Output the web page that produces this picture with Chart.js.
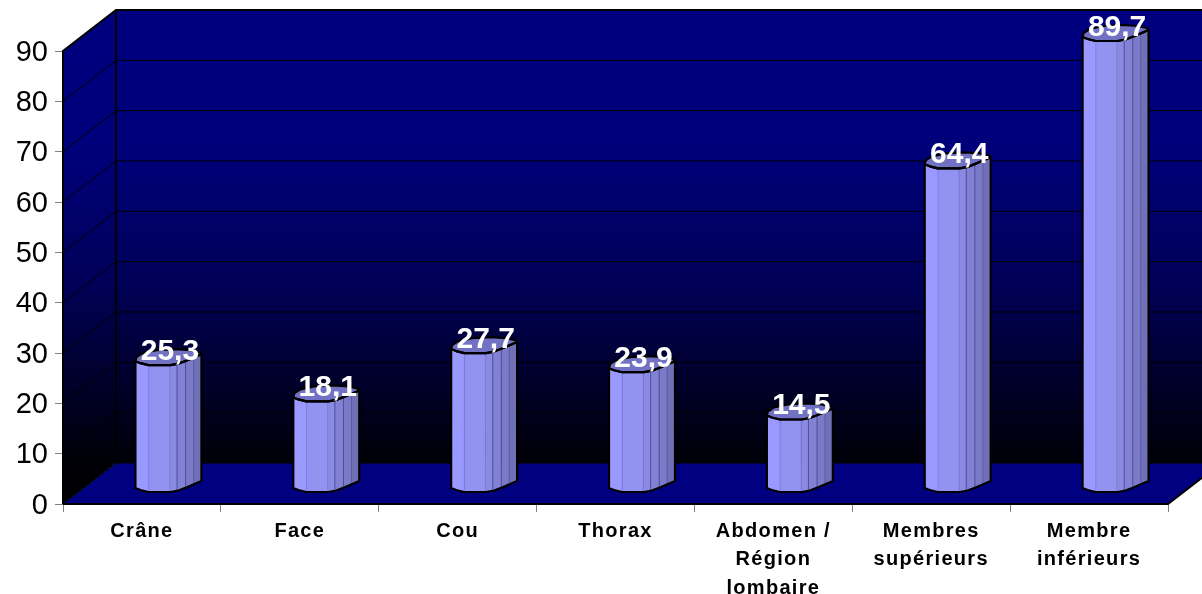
<!DOCTYPE html>
<html>
<head>
<meta charset="utf-8">
<style>
  html, body { margin: 0; padding: 0; background: #fff; }
  canvas { display: block; }
</style>
<script src="https://cdn.jsdelivr.net/npm/chart.js@4/dist/chart.umd.min.js"></script>
</head>
<body>
<canvas id="chart" width="1202" height="594"></canvas>
<script>
const categories = [
  "Crâne",
  "Face",
  "Cou",
  "Thorax",
  ["Abdomen /", "Région", "lombaire"],
  ["Membres", "supérieurs"],
  ["Membre", "inférieurs"],
];
const values = [25.3, 18.1, 27.7, 23.9, 14.5, 64.4, 89.7];
const yTicks = [0, 10, 20, 30, 40, 50, 60, 70, 80, 90];

const DEPTH_X = 53;
const DEPTH_Y = -41;
const NAVY = "#000080";

// facets of the cylinder, left to right (fraction of width, colour, divider line)
const FACETS = [
  [0, 0.2, "#9999ff", null],
  [0.2, 0.52, "#9292f0", "rgba(90,90,190,0.35)"],
  [0.52, 0.63, "#8a8ae0", "rgba(90,90,190,0.35)"],
  [0.63, 0.76, "#8282d4", "rgba(60,60,150,0.75)"],
  [0.76, 0.88, "#7a7ac6", "rgba(60,60,150,0.75)"],
  [0.88, 1, "#7070b6", "rgba(60,60,150,0.4)"],
];
// outline of the cap / foot around the centre point
const FRONT_EDGE = [[-33, 5], [-28, 7], [-20, 9], [2, 9], [10, 7.5], [19, 4], [33, -2]];
const BACK_EDGE = [[33, -2], [31, -4], [22, -6], [7, -7], [-12, -6], [-26, -3], [-32, 1], [-33, 5]];

function wallGradient(ctx, top, bottom) {
  const g = ctx.createLinearGradient(0, top, 0, bottom);
  g.addColorStop(0, NAVY);
  g.addColorStop(0.28, "#00007a");
  g.addColorStop(0.55, "#000058");
  g.addColorStop(0.755, "#00002a");
  g.addColorStop(0.92, "#000006");
  g.addColorStop(1, "#000000");
  return g;
}

const walls = {
  id: "walls",
  beforeDraw(chart) {
    // only the category labels are spaced out
    const x = chart.scales.x;
    const drawLabels = Object.getPrototypeOf(x).drawLabels;
    x.drawLabels = function (area) {
      chart.ctx.letterSpacing = "1.3px";
      drawLabels.call(this, area);
      chart.ctx.letterSpacing = "0px";
    };
  },
  beforeDatasetsDraw(chart) {
    const { ctx, chartArea: a, scales: { y } } = chart;
    const wallFill = wallGradient(ctx, a.top + DEPTH_Y, a.bottom);
    ctx.save();

    // back wall
    ctx.fillStyle = wallFill;
    ctx.fillRect(a.left + DEPTH_X, a.top + DEPTH_Y, a.width, a.height);

    // side wall
    ctx.beginPath();
    ctx.moveTo(a.left, a.top);
    ctx.lineTo(a.left + DEPTH_X, a.top + DEPTH_Y);
    ctx.lineTo(a.left + DEPTH_X, a.bottom + DEPTH_Y);
    ctx.lineTo(a.left, a.bottom);
    ctx.closePath();
    ctx.fill();

    // floor
    ctx.fillStyle = NAVY;
    ctx.beginPath();
    ctx.moveTo(a.left, a.bottom);
    ctx.lineTo(a.right, a.bottom);
    ctx.lineTo(a.right + DEPTH_X, a.bottom + DEPTH_Y);
    ctx.lineTo(a.left + DEPTH_X, a.bottom + DEPTH_Y);
    ctx.closePath();
    ctx.fill();

    // grid lines
    ctx.strokeStyle = "#000";
    ctx.lineWidth = 1;
    yTicks.forEach((v) => {
      const py = y.getPixelForValue(v);
      ctx.beginPath();
      ctx.moveTo(a.left, py);
      ctx.lineTo(a.left + DEPTH_X, py + DEPTH_Y);
      ctx.lineTo(a.right + DEPTH_X, py + DEPTH_Y);
      ctx.stroke();
    });

    // wall edges
    ctx.lineWidth = 2;
    ctx.beginPath();
    ctx.moveTo(a.left, a.bottom);
    ctx.lineTo(a.left, a.top);
    ctx.lineTo(a.left + DEPTH_X, a.top + DEPTH_Y);
    ctx.lineTo(a.right + DEPTH_X, a.top + DEPTH_Y);
    ctx.moveTo(a.left + DEPTH_X, a.top + DEPTH_Y);
    ctx.lineTo(a.left + DEPTH_X, a.bottom + DEPTH_Y);
    ctx.moveTo(a.left, a.bottom);
    ctx.lineTo(a.right, a.bottom);
    ctx.lineTo(a.right + DEPTH_X, a.bottom + DEPTH_Y);
    ctx.stroke();
    ctx.restore();
  },
};

const cylinders = {
  id: "cylinders",
  afterDatasetsDraw(chart) {
    const { ctx } = chart;
    const first = FRONT_EDGE[0];
    const last = FRONT_EDGE[FRONT_EDGE.length - 1];
    ctx.save();
    chart.getDatasetMeta(0).data.forEach((bar, i) => {
      const cx = bar.x + DEPTH_X / 2;
      const topY = bar.y + DEPTH_Y / 2;
      const baseY = bar.base + DEPTH_Y / 2;
      const left = cx - 33;
      const w = 66;

      const frontAt = (x, y0) => {
        // y of the front edge for an offset from the centre
        for (let k = 0; k < FRONT_EDGE.length - 1; k++) {
          const [x1, y1] = FRONT_EDGE[k];
          const [x2, y2] = FRONT_EDGE[k + 1];
          if (x >= x1 && x <= x2) return y0 + y1 + ((x - x1) / (x2 - x1)) * (y2 - y1);
        }
        return y0;
      };

      // body facets
      FACETS.forEach(([f0, f1, color, line]) => {
        const x0 = left + f0 * w;
        const x1 = left + f1 * w;
        ctx.fillStyle = color;
        ctx.beginPath();
        ctx.moveTo(x0, frontAt(x0 - cx, topY));
        ctx.lineTo(x1 + 0.5, frontAt(x1 - cx, topY));
        ctx.lineTo(x1 + 0.5, frontAt(x1 - cx, baseY));
        ctx.lineTo(x0, frontAt(x0 - cx, baseY));
        ctx.closePath();
        ctx.fill();
        if (line) {
          ctx.strokeStyle = line;
          ctx.lineWidth = 1;
          ctx.beginPath();
          ctx.moveTo(x0, frontAt(x0 - cx, topY));
          ctx.lineTo(x0, frontAt(x0 - cx, baseY));
          ctx.stroke();
        }
      });

      // cap
      ctx.fillStyle = "#7272c4";
      ctx.beginPath();
      FRONT_EDGE.concat(BACK_EDGE).forEach(([dx, dy], k) => {
        if (k === 0) ctx.moveTo(cx + dx, topY + dy);
        else ctx.lineTo(cx + dx, topY + dy);
      });
      ctx.closePath();
      ctx.fill();

      // outline
      ctx.strokeStyle = "#000";
      ctx.lineWidth = 2.2;
      ctx.lineJoin = "round";
      ctx.stroke();
      ctx.beginPath();
      ctx.moveTo(cx + first[0], topY + first[1]);
      FRONT_EDGE.forEach(([dx, dy]) => ctx.lineTo(cx + dx, baseY + dy));
      ctx.lineTo(cx + last[0], topY + last[1]);
      ctx.stroke();
      FRONT_EDGE.forEach(([dx, dy], k) => {
        if (k === 0) { ctx.beginPath(); ctx.moveTo(cx + dx, topY + dy); }
        else ctx.lineTo(cx + dx, topY + dy);
      });
      ctx.stroke();

      // value label
      ctx.fillStyle = "#fff";
      ctx.font = "bold 30px 'Liberation Sans', Arial, sans-serif";
      ctx.textAlign = "center";
      ctx.textBaseline = "middle";
      ctx.fillText(values[i].toFixed(1).replace(".", ","), cx + 1.5, topY - 4.5);
    });
    ctx.restore();
  },
};

new Chart(document.getElementById("chart").getContext("2d"), {
  type: "bar",
  data: {
    labels: categories,
    datasets: [{
      data: values,
      backgroundColor: "rgba(0,0,0,0)",
      borderWidth: 0,
    }],
  },
  plugins: [walls, cylinders],
  options: {
    responsive: false,
    animation: false,
    devicePixelRatio: 1,
    layout: { padding: { top: 51, right: 34, left: 0, bottom: 0 } },
    plugins: { legend: { display: false }, tooltip: { enabled: false } },
    scales: {
      x: {
        afterFit(scale) { scale.height = 90; },
        grid: { drawOnChartArea: false, tickLength: 8, tickColor: "#808080", tickWidth: 1, offset: true },
        border: { display: false },
        ticks: {
          autoSkip: false,
          maxRotation: 0,
          padding: 5,
          color: "#000",
          font: { family: "'Liberation Sans', Arial, sans-serif", size: 20, weight: "bold", lineHeight: 1.42 },
        },
      },
      y: {
        min: 0,
        max: 90,
        afterFit(scale) { scale.width = 63; },
        grid: { drawOnChartArea: false, tickLength: 8, tickColor: "#808080", tickWidth: 1 },
        border: { display: false },
        ticks: {
          stepSize: 10,
          padding: 7,
          labelOffset: 1.5,
          color: "#000",
          font: { family: "'Liberation Sans', Arial, sans-serif", size: 29 },
        },
      },
    },
  },
});
</script>
</body>
</html>
